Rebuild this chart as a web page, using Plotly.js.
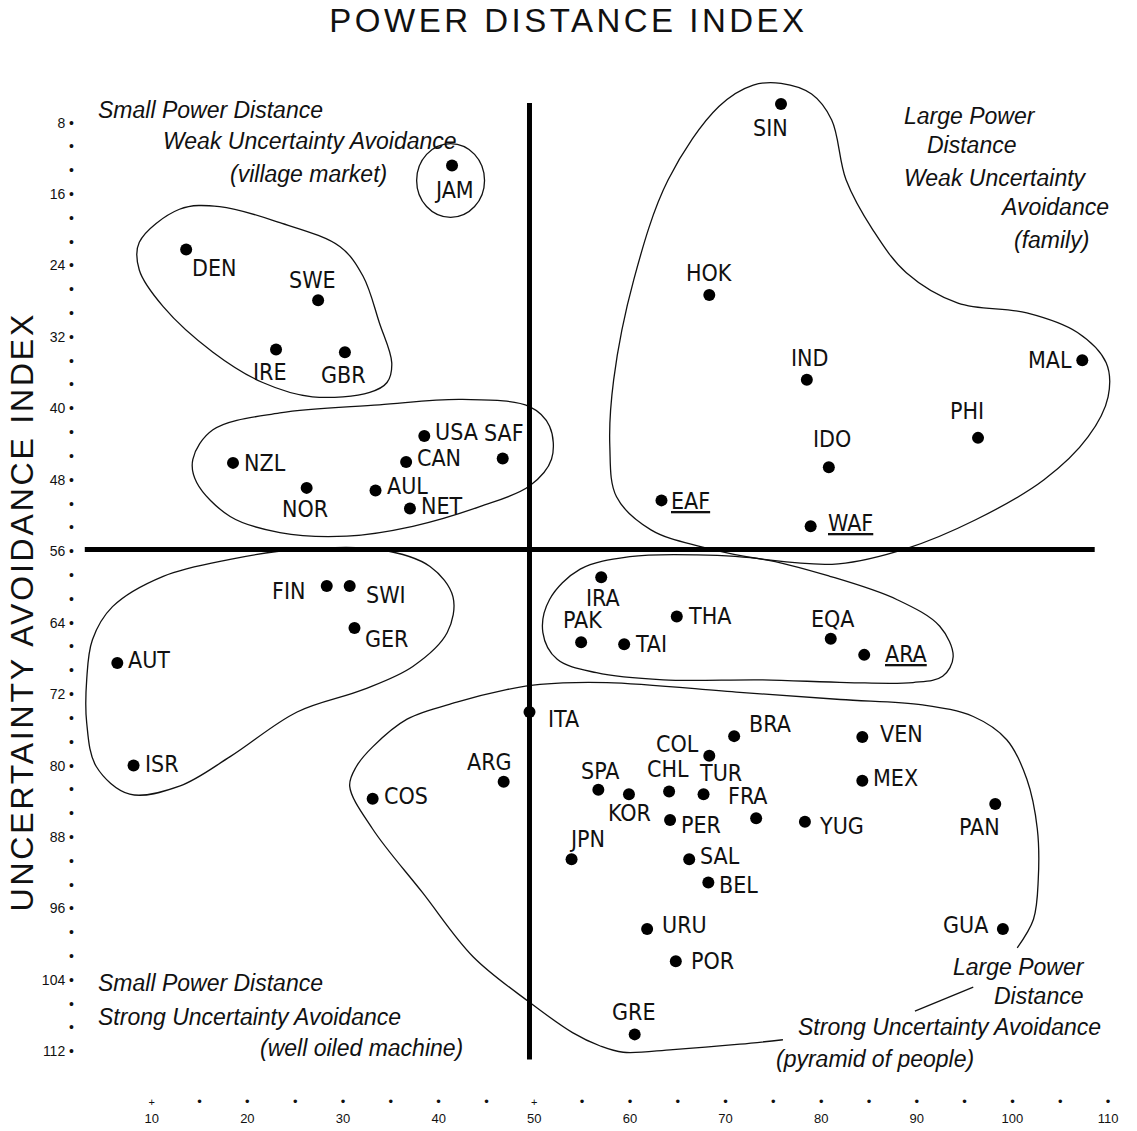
<!DOCTYPE html>
<html><head><meta charset="utf-8">
<script src="https://cdn.plot.ly/plotly-3.0.1.min.js"></script>
<style>
html,body{margin:0;padding:0;background:#fff;}
.gtitle{letter-spacing:3.5px;}
.annotation[data-index="0"] text{letter-spacing:2.8px;}
</style>
</head><body>
<div id="chart" style="width:1137px;height:1131px;"></div>
<script>
// ---- Data (x = Power Distance Index, y = Uncertainty Avoidance Index)
const countries = ['JAM','DEN','SWE','IRE','GBR','NZL','NOR','USA','CAN','AUL','NET','SAF',
  'SIN','HOK','IND','MAL','PHI','IDO','EAF','WAF',
  'IRA','THA','PAK','TAI','EQA','ARA',
  'FIN','SWI','GER','AUT','ISR',
  'ITA','COS','ARG','BRA','COL','VEN','MEX','SPA','KOR','CHL','TUR','FRA','PER','YUG','PAN',
  'JPN','SAL','BEL','URU','GUA','POR','GRE'];
const powerDistance = [41.4,13.6,27.4,23.0,30.2,18.5,26.2,38.5,36.6,33.4,37.0,46.7,
  75.8,68.3,78.5,107.3,96.4,80.8,63.3,78.9,
  57.0,64.9,54.9,59.4,81.0,84.5,
  28.3,30.7,31.2,6.4,8.1,
  49.5,33.1,46.8,70.9,68.3,84.3,84.3,56.7,59.9,64.1,67.7,73.2,64.2,78.3,98.2,
  53.9,66.2,68.2,61.8,99.0,64.8,60.5];
const uncertaintyAvoidance = [12.8,22.2,27.9,33.4,33.7,46.1,48.9,43.1,46.0,49.2,51.2,45.6,
  5.9,27.3,36.8,34.6,43.3,46.6,50.3,53.2,
  58.9,63.3,66.2,66.4,65.8,67.6,
  59.9,59.9,64.6,68.5,80.0,
  74.0,83.7,81.8,76.7,78.9,76.8,81.7,82.7,83.2,82.9,83.2,85.9,86.1,86.3,84.3,
  90.5,90.5,93.1,98.3,98.3,101.9,110.1];
const underlinedCountries = ['EAF','WAF','ARA'];

// quadrant dividers
const dividerPowerDistance = 49.5;
const dividerUncertainty = 55.8;

// tick labels
const xTickValues = [10,15,20,25,30,35,40,45,50,55,60,65,70,75,80,85,90,95,100,105,110];
const xLabelledTicks = [10,20,30,40,50,60,70,80,90,100,110];
const xCrossTicks = [10,50];
const yLabelledTicks = [8,16,24,32,40,48,56,64,72,80,88,96,104,112];

// cluster outlines (PDI, UAI)
const clusterNordic = [[8.7,21.4],[12.9,17.7],[17.1,17.4],[23.4,19.2],[29.7,21.9],[32.1,25.2],[33.8,30.4],[35.1,34.9],[34.6,37.1],[32.8,38.2],[26.8,38.7],[21.6,37.1],[16.4,33.7],[11.2,28.6],[8.7,24.5]];
const clusterAnglo = [[14.3,45.7],[16.4,42.4],[23.4,40.5],[33.8,39.6],[42.5,39.0],[49.5,39.8],[51.6,42.0],[51.8,45.7],[49.5,48.7],[44.3,51.0],[37.3,53.2],[30.4,54.3],[23.4,53.9],[18.2,52.1],[14.7,48.3]];
const clusterFamily = [[75.8,3.6],[79.0,4.8],[81.1,7.7],[82.6,14.4],[85.4,20.0],[88.9,24.8],[94.3,28.2],[101.5,29.3],[106.8,31.5],[109.8,34.9],[110.0,38.7],[107.9,43.2],[103.3,48.0],[96.1,52.5],[88.9,55.7],[81.8,57.4],[74.7,57.0],[67.5,55.5],[62.2,53.6],[58.6,49.9],[57.9,44.3],[58.3,36.8],[60.4,25.6],[64.0,14.4],[69.3,6.2],[72.9,3.8]];
const clusterGermanic = [[3.8,65.9],[5.9,62.2],[11.2,58.8],[18.2,56.9],[25.2,55.8],[33.8,55.8],[39.1,57.7],[41.5,61.1],[40.9,65.1],[37.3,68.9],[32.1,71.5],[25.2,74.0],[18.2,79.0],[12.9,82.3],[7.7,83.2],[4.2,80.1],[3.2,75.2],[3.2,70.4]];
const clusterAsianArab = [[50.9,65.1],[51.6,61.4],[54.8,58.0],[60.0,56.6],[67.0,56.4],[73.9,56.9],[80.9,58.8],[87.9,61.4],[92.4,64.4],[93.8,67.8],[92.7,70.0],[89.6,70.7],[82.7,70.7],[73.9,70.4],[63.5,70.4],[56.5,69.6],[52.4,68.1]];
const clusterPyramid = [[100.5,100.4],[102.2,97.2],[102.7,92.7],[102.6,87.1],[101.5,81.5],[99.4,77.1],[95.9,74.5],[90.6,73.2],[82.0,72.6],[71.5,71.8],[57.6,70.7],[50.6,70.9],[47.1,71.5],[41.9,72.9],[36.7,74.8],[33.1,77.9],[31.4,80.1],[30.7,82.3],[33.1,87.1],[38.3,94.2],[43.6,101.4],[49.5,106.5],[54.0,109.9],[56.9,111.4],[59.3,112.1],[64.5,111.8],[71.5,111.2],[76.0,110.7]];
const clusterPyramidTick = [[89.8,107.5],[95.9,104.8]];
const clusterJamaica = [37.7,10.35,44.8,18.6]; // x0,y0,x1,y1

// quadrant captions: [text, PDI, UAI, anchor]
const captions = [
  ['Small Power Distance',4.14,6.54,'left'],
  ['Weak Uncertainty Avoidance',26.5,10.1,'center'],
  ['(village market)',26.4,13.7,'center'],
  ['Large Power',88.5,7.3,'left'],
  ['Distance',90.9,10.5,'left'],
  ['Weak Uncertainty',88.5,14.2,'left'],
  ['Avoidance',98.5,17.4,'left'],
  ['(family)',99.9,21.1,'left'],
  ['Small Power Distance',4.14,104.4,'left'],
  ['Strong Uncertainty Avoidance',4.14,108.1,'left'],
  ['(well oiled machine)',21.1,111.6,'left'],
  ['Large Power',93.6,102.6,'left'],
  ['Distance',97.9,105.8,'left'],
  ['Strong Uncertainty Avoidance',77.4,109.3,'left'],
  ['(pyramid of people)',75.1,112.9,'left']
];

// label placement (anchor, dx px, dy px screen-down)
const labelPlacement = {
  JAM:['c',2,24], DEN:['l',4,19], SWE:['c',-6,-20], IRE:['c',-6,23], GBR:['c',-1,23],
  NZL:['l',9,0], NOR:['c',-2,21], USA:['l',9,-4], CAN:['l',9,-4], AUL:['l',9,-5], NET:['l',9,-2],
  SAF:['c',1,-25], SIN:['c',-11,24], HOK:['c',0,-22], IND:['c',3,-22], MAL:['r',-8,0],
  PHI:['c',-11,-27], IDO:['c',3,-28], EAF:['l',8,1], WAF:['l',15,-3],
  IRA:['c',2,21], THA:['l',9,0], PAK:['c',1,-22], TAI:['l',9,0], EQA:['c',2,-20], ARA:['l',19,-1],
  FIN:['r',-20,5], SWI:['l',14,9], GER:['l',9,11], AUT:['l',9,-3], ISR:['l',9,-2],
  ITA:['l',17,7], COS:['l',9,-3], ARG:['c',-14,-20], BRA:['l',13,-12], COL:['r',-8,-12],
  VEN:['l',16,-3], MEX:['l',9,-3], SPA:['c',2,-19], KOR:['c',1,19], CHL:['c',-1,-22],
  TUR:['c',17,-21], FRA:['c',-8,-22], PER:['l',9,5], YUG:['l',12,4], PAN:['c',-16,23],
  JPN:['c',15,-20], SAL:['l',9,-3], BEL:['l',9,2], URU:['l',13,-4], GUA:['r',-13,-4],
  POR:['l',13,0], GRE:['c',-1,-22]
};

// ---- Build
const labelFont = {family:'"Liberation Sans Narrow","Arial Narrow","DejaVu Sans Condensed",sans-serif', size:23, color:'#111'};
const captionFont = {family:'"Liberation Sans",Arial,sans-serif', size:23, color:'#111', style:'italic'};
const tickFont = {family:'"Liberation Sans",Arial,sans-serif', size:13, color:'#111'};

const outlineTrace = (pts, closed) => {
  const p = closed ? pts.concat([pts[0]]) : pts;
  return {x:p.map(d=>d[0]), y:p.map(d=>d[1]), type:'scatter', mode:'lines',
    line:{color:'#111', width:1.3, shape:'spline', smoothing:1}, hoverinfo:'skip', showlegend:false};
};

const traces = [
  outlineTrace(clusterNordic,true),
  outlineTrace(clusterAnglo,true),
  outlineTrace(clusterFamily,true),
  outlineTrace(clusterGermanic,true),
  outlineTrace(clusterAsianArab,true),
  outlineTrace(clusterPyramid,false),
  outlineTrace(clusterPyramidTick,false),
  {x:powerDistance, y:uncertaintyAvoidance, text:countries, type:'scatter', mode:'markers',
   marker:{color:'#000', size:12}, cliponaxis:false, showlegend:false, hoverinfo:'text'}
];

const xTickText = xTickValues.map(v => {
  const mark = xCrossTicks.includes(v) ? '<span style="font-size:11px">+</span>' : '•';
  return xLabelledTicks.includes(v) ? mark + '<br>' + v : mark;
});
const yTickValues = [];
const yTickText = [];
for (let i = 0; i < yLabelledTicks.length; i++) {
  const v = yLabelledTicks[i];
  yTickValues.push(v); yTickText.push(v + ' •');
  if (i < yLabelledTicks.length - 1) {
    const step = (yLabelledTicks[i+1] - v) / 3;
    yTickValues.push(v + step, v + 2*step); yTickText.push('•','•');
  }
}

const annotations = [{
  text:'UNCERTAINTY AVOIDANCE INDEX', xref:'paper', yref:'paper', x:-0.0555, y:0.4754,
  xanchor:'center', yanchor:'middle', textangle:-90, showarrow:false,
  font:{family:'"Liberation Sans",Arial,sans-serif', size:32, color:'#111'}
}];
captions.forEach(c => annotations.push({
  text:c[0], x:c[1], y:c[2], xref:'x', yref:'y', xanchor:c[3], yanchor:'middle',
  showarrow:false, font:captionFont
}));
countries.forEach((c, i) => {
  const p = labelPlacement[c];
  annotations.push({
    text: underlinedCountries.includes(c) ? '<u>' + c + '</u>' : c,
    x: powerDistance[i], y: uncertaintyAvoidance[i], xref:'x', yref:'y',
    xanchor: p[0]==='l' ? 'left' : (p[0]==='r' ? 'right' : 'center'),
    yanchor:'middle', xshift:p[1], yshift:-p[2], showarrow:false, font:labelFont
  });
});

const layout = {
  width:1137, height:1131,
  margin:{l:80, r:5, t:78, b:35},
  paper_bgcolor:'#fff', plot_bgcolor:'#fff',
  title:{text:'POWER DISTANCE INDEX', x:0.5, xref:'container', xanchor:'center',
    y:1-20/1131, yref:'container', yanchor:'middle',
    font:{family:'"Liberation Sans",Arial,sans-serif', size:33, color:'#111'}},
  xaxis:{range:[2.5,112.5], tickmode:'array', tickvals:xTickValues, ticktext:xTickText,
    showgrid:false, zeroline:false, showline:false, ticks:'', tickfont:tickFont, ticklabelstandoff:-4},
  yaxis:{range:[117,3], tickmode:'array', tickvals:yTickValues, ticktext:yTickText,
    showgrid:false, zeroline:false, showline:false, ticks:'', tickfont:{family:tickFont.family, size:14, color:'#111'}, ticklabelstandoff:5},
  shapes:[
    {type:'line', xref:'x', yref:'y', x0:dividerPowerDistance, x1:dividerPowerDistance, y0:5.8, y1:112.9,
     line:{color:'#000', width:5}},
    {type:'line', xref:'x', yref:'y', x0:3.0, x1:108.6, y0:dividerUncertainty, y1:dividerUncertainty,
     line:{color:'#000', width:5}},
    {type:'circle', xref:'x', yref:'y', x0:clusterJamaica[0], y0:clusterJamaica[1], x1:clusterJamaica[2], y1:clusterJamaica[3],
     line:{color:'#111', width:1.3}}
  ],
  annotations:annotations,
  showlegend:false,
  hovermode:'closest'
};

Plotly.newPlot('chart', traces, layout, {displayModeBar:false, staticPlot:true});
</script>
</body></html>
